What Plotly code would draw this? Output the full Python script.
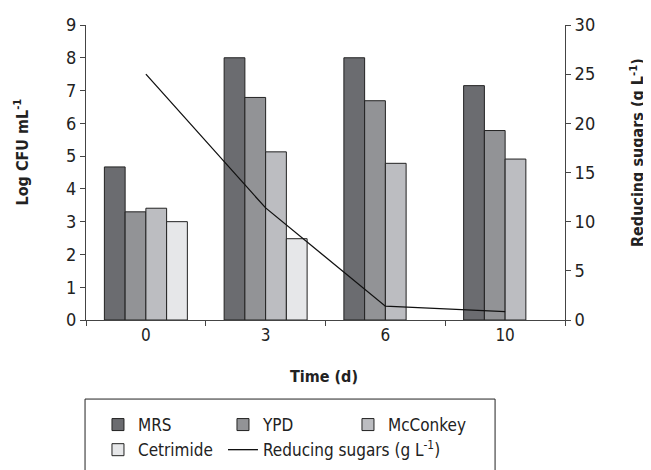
import plotly.graph_objects as go

days = ["0", "3", "6", "10"]
mrs = [4.67, 8.0, 8.0, 7.15]
ypd = [3.30, 6.79, 6.69, 5.78]
mcconkey = [3.41, 5.13, 4.78, 4.91]
cetrimide = [3.0, 2.48, None, None]
sugars = [25.0, 11.4, 1.4, 0.85]

series_names = ["MRS", "YPD", "McConkey", "Cetrimide"]
series_vals = [mrs, ypd, mcconkey, cetrimide]
colors = ["#6b6c70", "#929396", "#bcbdc1", "#e6e7e9"]

FONT = "DejaVu Sans Condensed, Liberation Sans, sans-serif"

fig = go.Figure()
for name, vals, col in zip(series_names, series_vals, colors):
    fig.add_trace(go.Bar(x=days, y=vals, name=name, marker=dict(color=col, line=dict(color="#222222", width=1))))

fig.add_trace(go.Scatter(x=days, y=sugars, name="Reducing sugars (g L<sup>-1</sup>)", mode="lines",
                         line=dict(color="#111111", width=1.3), yaxis="y2"))

# page body has an 8px margin, so the figure is made 8px smaller and shifted
fig.update_layout(
    width=643, height=462,
    margin=dict(l=78, r=86, t=17, b=150, autoexpand=False),
    plot_bgcolor="white", paper_bgcolor="white",
    barmode="group", bargap=0.307, bargroupgap=0,
    font=dict(family=FONT, size=17, color="#222222"),
    xaxis=dict(type="category", showline=True, linecolor="#444444", linewidth=1,
               ticks="outside", tickson="boundaries", ticklen=5, tickcolor="#444444",
               showgrid=False, tickfont=dict(size=17)),
    yaxis=dict(range=[0, 9], dtick=1, showline=True, linecolor="#444444", linewidth=1,
               ticks="outside", ticklen=5, tickcolor="#444444", showgrid=False, zeroline=False,
               tickfont=dict(size=18)),
    yaxis2=dict(range=[0, 30], dtick=5, overlaying="y", side="right", showline=True,
                linecolor="#444444", linewidth=1, ticks="outside", ticklen=5, tickcolor="#444444",
                showgrid=False, zeroline=False, tickfont=dict(size=18)),
    legend=dict(orientation="h", x=0.025, xanchor="left", y=-0.295, yanchor="top",
                entrywidth=80, entrywidthmode="pixels", borderwidth=0,
                font=dict(size=17), traceorder="normal", bgcolor="rgba(0,0,0,0)"),
    showlegend=True,
)

fig.add_annotation(text="<b>Log CFU mL<sup>-1</sup></b>", xref="paper", yref="paper",
                   x=-0.135, y=0.569, textangle=-90, showarrow=False, font=dict(size=16),
                   xanchor="center", yanchor="middle")
fig.add_annotation(text="<b>Reducing sugars (g L<sup>-1</sup>)</b>", xref="paper", yref="paper",
                   x=1.150, y=0.569, textangle=-90, showarrow=False, font=dict(size=16),
                   xanchor="center", yanchor="middle")
fig.add_annotation(text="<b>Time (d)</b>", xref="paper", yref="paper",
                   x=0.496, y=-0.193, showarrow=False, font=dict(size=16),
                   xanchor="center", yanchor="middle")

fig.add_shape(type="rect", xref="paper", yref="paper", x0=-0.002, x1=0.854, y0=-0.268, y1=-0.56,
              line=dict(color="#222222", width=1), fillcolor="rgba(0,0,0,0)")

fig.write_html("out.html")
